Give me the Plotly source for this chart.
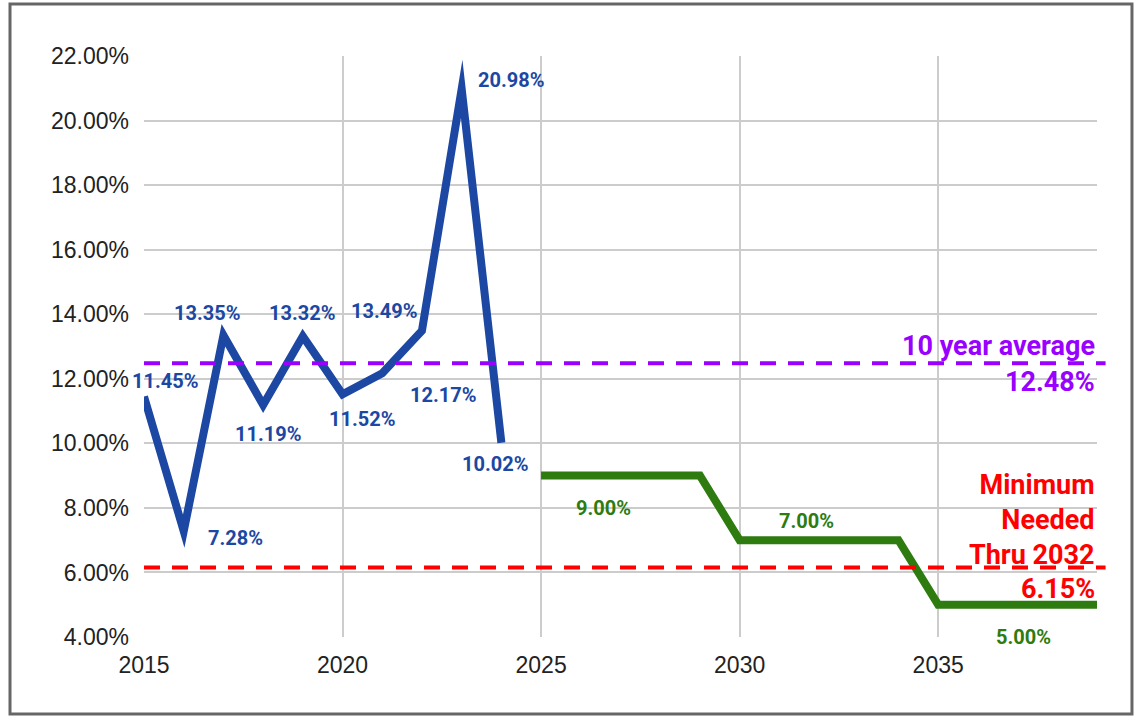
import plotly.graph_objects as go

# historical return, 2015-2024
years = [2015, 2016, 2017, 2018, 2019, 2020, 2021, 2022, 2023, 2024]
rates = [11.45, 7.28, 13.35, 11.19, 13.32, 11.52, 12.17, 13.49, 20.98, 10.02]

# projected return steps
proj_years = [2025, 2029, 2030, 2034, 2035, 2039]
proj_rates = [9.00, 9.00, 7.00, 7.00, 5.00, 5.00]

avg_10yr = 12.48
min_needed = 6.15

y_ticks = [4, 6, 8, 10, 12, 14, 16, 18, 20, 22]
x_ticks = [2015, 2020, 2025, 2030, 2035]

BLUE = "#1c47a3"
GREEN = "#2e7b10"
PURPLE = "#9900ff"
RED = "#ff0000"
LABEL_FONT = "Roboto"

# pixel offsets of the data labels (dx right, dy up)
blue_shift = [(21, 16), (52, -7), (-16, 22), (5, -29), (-1, 23),
              (19, -25), (61, -22), (-38, 20), (49, 9), (-6, -21)]
green_labels = [(0, 62, -32), (2, 67, 19), (4, 85, -32)]  # point index, dx, dy

fig = go.Figure()
fig.add_trace(go.Scatter(
    x=years, y=rates, mode="lines",
    line=dict(color=BLUE, width=8), showlegend=False
))
fig.add_trace(go.Scatter(
    x=proj_years, y=proj_rates, mode="lines",
    line=dict(color=GREEN, width=8), showlegend=False
))

annotations = []
for (yr, r), (dx, dy) in zip(zip(years, rates), blue_shift):
    annotations.append(dict(
        x=yr, y=r, text=f"{r:.2f}%", showarrow=False, xshift=dx, yshift=dy,
        font=dict(family=LABEL_FONT, size=20, color=BLUE, weight="bold")
    ))
for i, dx, dy in green_labels:
    annotations.append(dict(
        x=proj_years[i], y=proj_rates[i], text=f"{proj_rates[i]:.2f}%",
        showarrow=False, xshift=dx, yshift=dy,
        font=dict(family=LABEL_FONT, size=20, color=GREEN, weight="bold")
    ))

big = dict(family=LABEL_FONT, size=27, weight="bold")
annotations += [
    dict(x=1.0, xref="paper", y=avg_10yr, text="10 year average", showarrow=False,
         xanchor="right", yanchor="bottom", yshift=-1, font=dict(big, color=PURPLE)),
    dict(x=1.0, xref="paper", y=avg_10yr, text=f"{avg_10yr:.2f}%", showarrow=False,
         xanchor="right", yanchor="top", yshift=-1, font=dict(big, color=PURPLE)),
    dict(x=1.0, xref="paper", y=min_needed, text="Minimum<br>Needed<br>Thru 2032",
         showarrow=False, xanchor="right", align="right", yanchor="bottom", yshift=-5,
         font=dict(big, color=RED)),
    dict(x=1.0, xref="paper", y=min_needed, text=f"{min_needed:.2f}%", showarrow=False,
         xanchor="right", yanchor="top", yshift=-3, font=dict(big, color=RED)),
]

shapes = [
    dict(type="line", xref="paper", x0=0, x1=1.009, y0=avg_10yr, y1=avg_10yr,
         line=dict(color=PURPLE, width=4, dash="16px,12px")),
    dict(type="line", xref="paper", x0=0, x1=1.009, y0=min_needed, y1=min_needed,
         line=dict(color=RED, width=4, dash="16px,12px")),
    # outer frame
    dict(type="rect", xref="paper", yref="paper", x0=-0.1406, x1=1.0367,
         y0=-0.1325, y1=1.0895, line=dict(color="#666666", width=3), layer="below"),
]

fig.update_layout(
    width=1136, height=716,
    margin=dict(l=144, r=39, t=56, b=79),
    paper_bgcolor="white", plot_bgcolor="white",
    font=dict(family="Liberation Sans, Arial", size=23, color="#222222"),
    xaxis=dict(range=[2015, 2039], tickvals=x_ticks, showgrid=True,
               gridcolor="#cccccc", gridwidth=2, zeroline=False, showline=False,
               ticks="", ticklabelstandoff=12),
    yaxis=dict(range=[4, 22], tickvals=y_ticks,
               ticktext=[f"{v:.2f}%" for v in y_ticks], showgrid=True,
               gridcolor="#cccccc", gridwidth=2, zeroline=False, ticks="",
               ticklabelstandoff=14),
    annotations=annotations,
    shapes=shapes,
)

# no page margin, and sharp (mitered) corners on the thick lines like the original
js = """
document.body.style.margin = '0';
document.querySelectorAll('.scatterlayer .js-line').forEach(function (p) {
    p.style.strokeLinejoin = 'miter';
    p.style.strokeMiterlimit = '30';
});
"""
fig.write_html("out.html", config={"displayModeBar": False}, post_script=js)
